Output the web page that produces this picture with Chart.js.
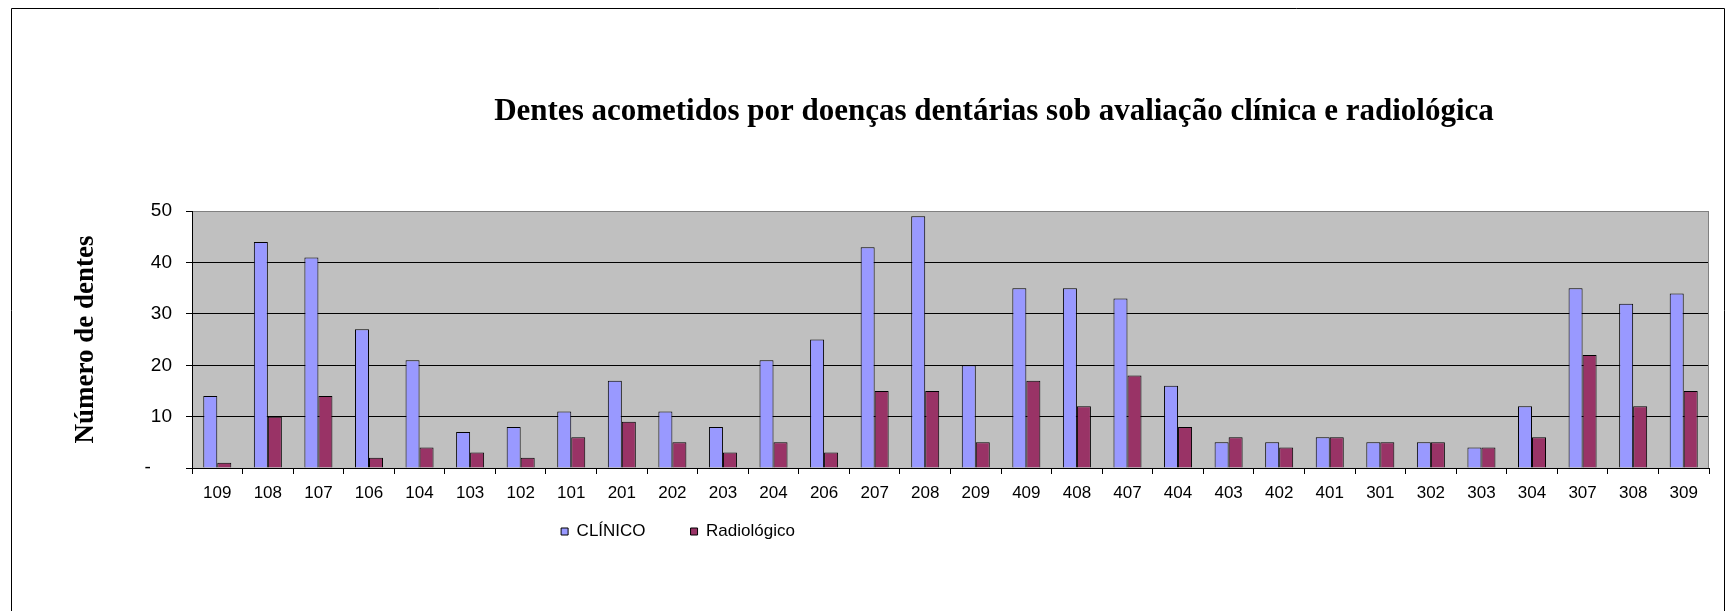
<!DOCTYPE html>
<html>
<head>
<meta charset="utf-8">
<script src="https://cdn.jsdelivr.net/npm/chart.js@4.4.1/dist/chart.umd.min.js"></script>
<style>
  html, body { margin: 0; padding: 0; background: #fff; }
</style>
</head>
<body>
<canvas id="dentesChart" width="1727" height="611"></canvas>
<script>
const dentes = ['109', '108', '107', '106', '104', '103', '102', '101', '201', '202',
                '203', '204', '206', '207', '208', '209', '409', '408', '407', '404',
                '403', '402', '401', '301', '302', '303', '304', '307', '308', '309'];
const clinico = [14, 44, 41, 27, 21, 7, 8, 11, 17, 11,
                 8, 21, 25, 43, 49, 20, 35, 35, 33, 16,
                 5, 5, 6, 5, 5, 4, 12, 35, 32, 34];
const radiologico = [1, 10, 14, 2, 4, 3, 2, 6, 9, 5,
                     3, 5, 3, 15, 15, 5, 17, 12, 18, 8,
                     6, 4, 6, 5, 5, 4, 6, 22, 12, 15];
const yMax = 50;
const yStep = 10;

// moldura externa, fundo cinza da area de plotagem e posicao do titulo/legenda
const moldura = {
    id: 'moldura',
    afterLayout(chart) {
        chart.titleBlock.left = 994 - 700;
        chart.titleBlock.right = 994 + 700;
        const lg = chart.legend;
        lg.left = 378;
        lg.right = 978;
        lg.top = 478;
        lg.bottom = 478 + lg.height;
    },
    beforeDraw(chart) {
        const { ctx, chartArea: a } = chart;
        ctx.save();
        ctx.fillStyle = '#fff';
        ctx.fillRect(0, 0, chart.width, chart.height);
        ctx.strokeStyle = '#000';
        ctx.lineWidth = 1;
        ctx.beginPath();
        ctx.moveTo(11.5, 640);
        ctx.lineTo(11.5, 8.5);
        ctx.lineTo(1724.5, 8.5);
        ctx.lineTo(1724.5, 640);
        ctx.stroke();
        ctx.fillStyle = '#c0c0c0';
        ctx.fillRect(a.left, a.top, a.right - a.left, a.bottom - a.top);
        ctx.restore();
    },
    beforeDatasetsDraw(chart) {
        const { ctx, chartArea: a } = chart;
        ctx.save();
        ctx.strokeStyle = '#808080';
        ctx.lineWidth = 1;
        ctx.beginPath();
        ctx.moveTo(a.right - 0.5, a.top);
        ctx.lineTo(a.right - 0.5, a.bottom);
        ctx.stroke();
        ctx.restore();
    }
};

const ctx = document.getElementById('dentesChart').getContext('2d');
const dentesChart = new Chart(ctx, {
    type: 'bar',
    data: {
        labels: dentes,
        datasets: [
            {
                label: 'CLÍNICO',
                data: clinico,
                backgroundColor: '#9999ff',
                borderColor: '#000',
                borderWidth: 1
            },
            {
                label: 'Radiológico',
                data: radiologico,
                backgroundColor: '#993366',
                borderColor: '#000',
                borderWidth: 1
            }
        ]
    },
    options: {
        responsive: false,
        animation: false,
        layout: { padding: { left: 0, right: 18, top: 0, bottom: 26 } },
        datasets: {
            bar: { categoryPercentage: 0.554, barPercentage: 1 }
        },
        plugins: {
            title: {
                display: true,
                text: 'Dentes acometidos por doenças dentárias sob avaliação clínica e radiológica',
                color: '#000',
                font: { family: '"Liberation Serif", "Times New Roman", serif', size: 31, weight: 'bold' },
                padding: { top: 93, bottom: 81 }
            },
            legend: {
                position: 'bottom',
                align: 'center',
                labels: {
                    color: '#000',
                    font: { family: '"Liberation Sans", Arial, sans-serif', size: 17 },
                    boxWidth: 7,
                    boxHeight: 7,
                    padding: 45
                }
            },
            tooltip: { enabled: false }
        },
        scales: {
            x: {
                grid: {
                    display: true,
                    drawOnChartArea: false,
                    drawTicks: true,
                    tickLength: 6,
                    color: '#000'
                },
                border: { color: '#000' },
                ticks: {
                    color: '#000',
                    font: { family: '"Liberation Sans", Arial, sans-serif', size: 17 },
                    padding: 9,
                    maxRotation: 0,
                    autoSkip: false
                },
                afterFit(scale) { scale.height = 45; }
            },
            y: {
                min: 0,
                max: yMax,
                ticks: {
                    stepSize: yStep,
                    color: '#000',
                    font: { family: '"Liberation Sans", Arial, sans-serif', size: 19 },
                    padding: 14,
                    callback: v => v === 0 ? '-    ' : v
                },
                grid: {
                    color: c => (c.tick && c.tick.value === yMax) ? '#808080' : '#000',
                    tickColor: '#000',
                    tickLength: 6
                },
                border: { color: '#000' },
                title: {
                    display: true,
                    text: 'Número de dentes',
                    color: '#000',
                    font: { family: '"Liberation Serif", "Times New Roman", serif', size: 27, weight: 'bold' },
                    padding: { top: 70, bottom: 0 }
                },
                afterFit(scale) { scale.width = 192; }
            }
        }
    },
    plugins: [moldura]
});
</script>
</body>
</html>
